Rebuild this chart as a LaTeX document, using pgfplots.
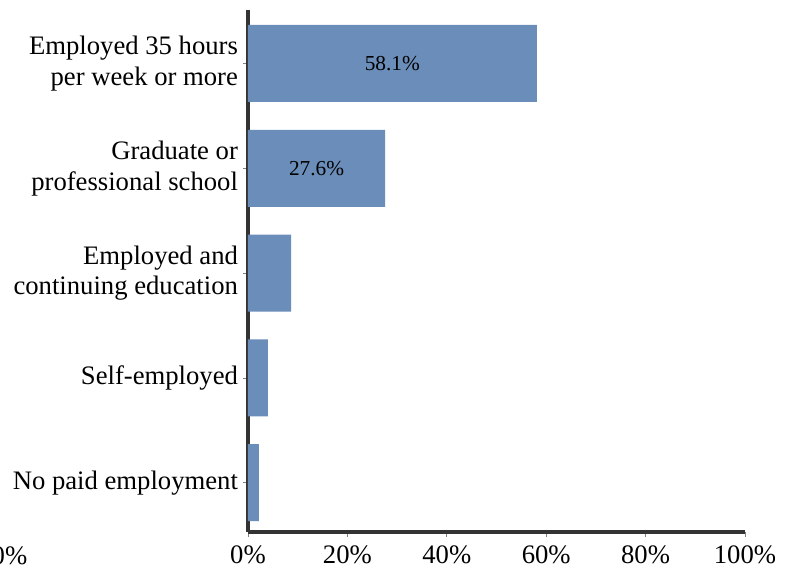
\documentclass[border=0pt]{standalone}
\usepackage{fontspec}
\setmainfont{Liberation Serif}
\usepackage{pgfplots}
\pgfplotsset{compat=1.18}
\definecolor{barblue}{HTML}{6A8DB9}
\definecolor{axisgray}{HTML}{333333}
\begin{document}
\begin{tikzpicture}
\useasboundingbox (-186pt,-28.5pt) rectangle (409.5pt,399pt);
\begin{axis}[
  at={(0pt,0pt)}, anchor=south west,
  scale only axis, width=372.75pt, height=391.5pt,
  xbar, bar width=57.75pt,
  xmin=0, xmax=100, ymin=-0.47, ymax=4.51,
  axis x line*=bottom, axis y line*=left,
  axis line style={axisgray, line width=2.8pt},
  xtick={0,20,40,60,80,100},
  xticklabels={0\%,20\%,40\%,60\%,80\%,100\%},
  ytick={0,1,2,3,4},
  yticklabels={No paid employment, Self-employed, {Employed and\\continuing education}, {Graduate or\\professional school}, {Employed 35 hours\\per week or more}},
  yticklabel style={align=right, font=\fontsize{20}{23}\selectfont},
  xticklabel style={font=\fontsize{20}{22.5}\selectfont, yshift=-3pt},
  tick style={gray, line width=0.5pt},
  major tick length=4pt,
  tick align=outside,
  clip=false,
]
  \addplot[fill=barblue, draw=none] coordinates {(2.2,0) (4.0,1) (8.7,2) (27.6,3) (58.1,4)};
  \node[font=\fontsize{16}{18}\selectfont] at (axis cs:29.05,4) {58.1\%};
  \node[font=\fontsize{16}{18}\selectfont] at (axis cs:13.8,3) {27.6\%};
\end{axis}
\node[overlay, anchor=east, font=\fontsize{20}{22.5}\selectfont] at (-162pt,-17.5pt) {0\%};
\end{tikzpicture}
\end{document}
